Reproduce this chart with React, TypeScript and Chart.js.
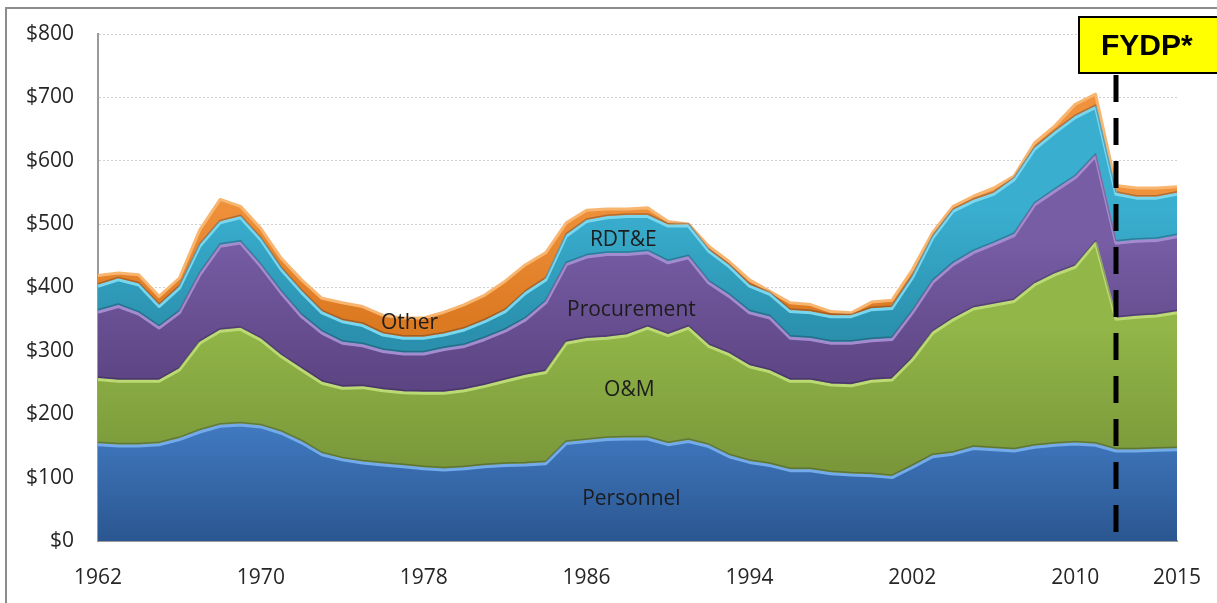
import React, { useEffect, useRef } from 'react';
import { Chart, registerables } from 'chart.js';

Chart.register(...registerables);

const years = [
  1962, 1963, 1964, 1965, 1966, 1967, 1968, 1969, 1970, 1971,
  1972, 1973, 1974, 1975, 1976, 1977, 1978, 1979, 1980, 1981,
  1982, 1983, 1984, 1985, 1986, 1987, 1988, 1989, 1990, 1991,
  1992, 1993, 1994, 1995, 1996, 1997, 1998, 1999, 2000, 2001,
  2002, 2003, 2004, 2005, 2006, 2007, 2008, 2009, 2010, 2011,
  2012, 2013, 2014, 2015,
];

const personnel = [
  152, 150, 150, 152, 160, 172, 181, 183, 180, 170,
  155, 136, 128, 123, 120, 117, 114, 112, 114, 117,
  119, 120, 122, 154, 157, 160, 161, 161, 152, 157,
  149, 133, 124, 119, 111, 111, 106, 104, 103, 100,
  116, 133, 137, 146, 144, 142, 148, 151, 153, 151,
  142, 142, 143, 144,
];

const om = [
  103, 102, 102, 100, 110, 140, 150, 151, 137, 121,
  115, 113, 113, 119, 117, 117, 119, 121, 123, 127,
  133, 140, 144, 158, 161, 160, 163, 175, 172, 179,
  158, 161, 151, 148, 141, 141, 140, 141, 149, 154,
  170, 195, 212, 220, 228, 236, 256, 269, 279, 319,
  208, 211, 212, 216,
];

const procurement = [
  106, 118, 106, 84, 90, 108, 134, 136, 116, 100,
  84, 79, 71, 66, 62, 61, 62, 69, 70, 74,
  79, 89, 110, 124, 130, 132, 128, 119, 115, 111,
  100, 92, 85, 85, 68, 66, 66, 67, 64, 64,
  74, 80, 87, 89, 96, 104, 126, 132, 141, 137,
  120, 120, 119, 120,
];

const rdte = [
  41, 42, 46, 34, 39, 45, 37, 40, 42, 37,
  38, 32, 34, 32, 26, 25, 25, 23, 26, 28,
  31, 42, 36, 45, 56, 58, 60, 57, 58, 50,
  50, 47, 42, 37, 42, 42, 42, 42, 49, 49,
  55, 70, 84, 81, 79, 88, 88, 92, 95, 77,
  77, 68, 67, 67,
];

const other = [
  17, 11, 16, 16, 16, 26, 37, 18, 18, 18,
  20, 23, 30, 30, 31, 32, 32, 36, 40, 42,
  48, 45, 43, 21, 18, 14, 12, 14, 7, 3,
  8, 8, 10, 5, 14, 13, 8, 6, 12, 13,
  13, 9, 8, 8, 10, 6, 10, 11, 21, 21,
  14, 16, 16, 12,
];

const seriesNames = ['Personnel', 'O&M', 'Procurement', 'RDT&E', 'Other'];
const xTickYears = [1962, 1970, 1978, 1986, 1994, 2002, 2010, 2015];
const yMax = 800;
const yStep = 100;
const fydpYear = 2012;
const fydpText = 'FYDP*';

// in-chart series label anchors (year, value)
const labelYears = [1988.2, 1988.1, 1988.2, 1987.8, 1977.3];
const labelValues = [66, 238, 365, 475, 344];

const FONT = '"Open Sans", sans-serif';

const palette = [
  { top: '#4079c0', bottom: '#2b5690', edge: '#72aaea', vTop: 180, vBottom: 0 },
  { top: '#92b648', bottom: '#7a983a', edge: '#bcda74', vTop: 340, vBottom: 120 },
  { top: '#765da4', bottom: '#5d4483', edge: '#a38bcf', vTop: 470, vBottom: 250 },
  { top: '#3aaecf', bottom: '#2a90ad', edge: '#78d6ee', vTop: 520, vBottom: 330 },
  { top: '#f0923b', bottom: '#dc7a22', edge: '#f8b570', vTop: 540, vBottom: 350 },
];

const seriesData = [personnel, om, procurement, rdte, other];

const decorPlugin = {
  id: 'decor',
  afterDatasetsDraw(chart: any) {
    const { ctx } = chart;
    const xs = chart.scales.x;
    const ys = chart.scales.y;
    ctx.save();
    // soft shadow just above each inner boundary (bottom edge of upper layer)
    for (let i = 0; i < 4; i++) {
      const pts = chart.getDatasetMeta(i).data;
      ctx.beginPath();
      pts.forEach((p: any, j: number) => {
        if (j === 0) ctx.moveTo(p.x, p.y - 2.5);
        else ctx.lineTo(p.x, p.y - 2.5);
      });
      ctx.strokeStyle = 'rgba(20,20,40,0.28)';
      ctx.lineWidth = 1.5;
      ctx.lineJoin = 'round';
      ctx.stroke();
    }
    ctx.fillStyle = '#1c1c1c';
    ctx.font = `21px ${FONT}`;
    ctx.textAlign = 'center';
    ctx.textBaseline = 'middle';
    seriesNames.forEach((name, i) => {
      const x = xs.getPixelForValue(labelYears[i] - years[0]);
      const y = ys.getPixelForValue(labelValues[i]);
      ctx.fillText(name, x, y);
    });
    ctx.restore();
  },
  afterDraw(chart: any) {
    const { ctx } = chart;
    const xs = chart.scales.x;
    const area = chart.chartArea;
    const lx = Math.round(xs.getPixelForValue(fydpYear - years[0]));
    ctx.save();
    // outer frame
    ctx.strokeStyle = '#8c8c8c';
    ctx.lineWidth = 2;
    ctx.strokeRect(6, 8, 1400, 800);
    // dashed FYDP line
    const boxTop = 17;
    const boxBottom = 73;
    ctx.strokeStyle = '#000';
    ctx.lineWidth = 5;
    ctx.setLineDash([27, 16]);
    ctx.beginPath();
    ctx.moveTo(lx, boxBottom + 2);
    ctx.lineTo(lx, area.bottom - 9);
    ctx.stroke();
    ctx.setLineDash([]);
    // box
    const boxLeft = lx - 37;
    ctx.fillStyle = '#ffff00';
    ctx.fillRect(boxLeft, boxTop, 300, boxBottom - boxTop);
    ctx.lineWidth = 2;
    ctx.strokeStyle = '#000';
    ctx.strokeRect(boxLeft, boxTop, 300, boxBottom - boxTop);
    ctx.fillStyle = '#000';
    ctx.font = 'bold 30px "Liberation Sans", Arial, sans-serif';
    ctx.textAlign = 'left';
    ctx.textBaseline = 'alphabetic';
    ctx.fillText(fydpText, boxLeft + 22, 55);
    ctx.restore();
  },
};

export default function App() {
  const ref = useRef<HTMLCanvasElement | null>(null);

  useEffect(() => {
    document.body.style.margin = '0';
    document.body.style.background = '#fff';
    const canvas = ref.current;
    if (!canvas) return;

    const makeBg = (i: number) => (c: any) => {
      const p = palette[i];
      const chart = c.chart;
      const area = chart.chartArea;
      const ys = chart.scales && chart.scales.y;
      if (!area || !ys) return p.top;
      const g = chart.ctx.createLinearGradient(0, ys.getPixelForValue(p.vTop), 0, ys.getPixelForValue(p.vBottom));
      g.addColorStop(0, p.top);
      g.addColorStop(1, p.bottom);
      return g;
    };

    const chart = new Chart(canvas, {
      type: 'line',
      data: {
        labels: years.map(String),
        datasets: seriesData.map((d, i) => ({
          label: seriesNames[i],
          data: d,
          fill: i === 0 ? 'origin' : '-1',
          backgroundColor: makeBg(i),
          borderColor: palette[i].edge,
          borderWidth: 3,
          pointRadius: 0,
          pointHoverRadius: 0,
          tension: 0,
          borderJoinStyle: 'round',
        })),
      },
      options: {
        responsive: false,
        animation: false,
        events: [],
        layout: { padding: { top: 34, right: 40, left: 0, bottom: 0 } },
        plugins: {
          legend: { display: false },
          tooltip: { enabled: false },
          title: { display: false },
        },
        scales: {
          x: {
            type: 'category',
            offset: false,
            grid: { display: false, drawTicks: false },
            border: { display: true, color: '#9a9a9a', width: 2 },
            ticks: {
              autoSkip: false,
              maxRotation: 0,
              minRotation: 0,
              padding: 24,
              color: '#262626',
              font: { family: FONT, size: 21 },
              callback: (_v: any, idx: number) =>
                xTickYears.includes(years[idx]) ? String(years[idx]) : '',
            },
            afterFit: (s: any) => {
              s.height = 62;
              s.paddingLeft = 0;
              s.paddingRight = 0;
            },
          },
          y: {
            stacked: true,
            min: 0,
            max: yMax,
            grid: { color: '#d0d0d0', lineWidth: 1, drawTicks: false },
            border: { display: true, color: '#9a9a9a', width: 2, dash: [2, 2] },
            ticks: {
              stepSize: yStep,
              padding: 24,
              color: '#262626',
              font: { family: FONT, size: 21 },
              callback: (v: any) => '$' + v,
            },
            afterFit: (s: any) => {
              s.width = 98;
              s.paddingTop = 0;
              s.paddingBottom = 0;
            },
          },
        },
      },
      plugins: [decorPlugin],
    } as any);

    return () => chart.destroy();
  }, []);

  return (
    <div style={{ width: 1217, height: 603, background: '#fff' }}>
      <canvas ref={ref} width={1217} height={603} style={{ display: 'block' }} />
    </div>
  );
}
